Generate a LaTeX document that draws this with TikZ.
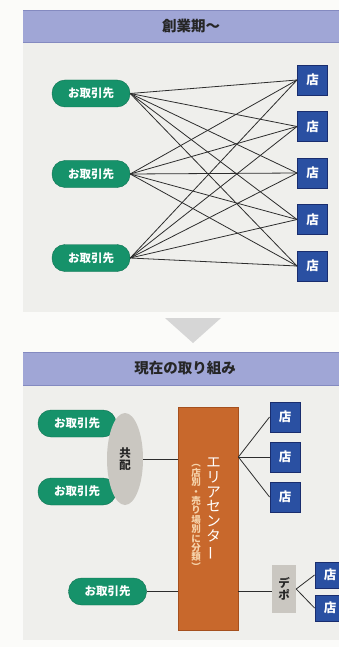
\documentclass[tikz,border=0pt]{standalone}
\usepackage{fontspec}
\usepackage{graphicx}
\newfontfamily\jp{Noto Sans CJK JP}
\usetikzlibrary{shapes.geometric}
\definecolor{hdr}{RGB}{160,166,214}
\definecolor{hdrd}{RGB}{132,138,192}
\definecolor{panel}{RGB}{239,239,236}
\definecolor{pg}{RGB}{251,251,249}
\definecolor{grn}{RGB}{22,146,106}
\definecolor{grnd}{RGB}{12,112,80}
\definecolor{blu}{RGB}{42,80,162}
\definecolor{blud}{RGB}{25,45,110}
\definecolor{org}{RGB}{200,104,44}
\definecolor{orgd}{RGB}{165,80,30}
\definecolor{gry}{RGB}{202,199,193}
\definecolor{tri}{RGB}{214,214,214}
\definecolor{ln}{RGB}{45,45,45}
\definecolor{cream}{RGB}{246,212,172}
\begin{document}
\begin{tikzpicture}[x=1pt,y=-1pt,
  pill/.style={draw=grnd, fill=grn, rounded corners=13pt, minimum width=78pt, minimum height=27pt, text=white, font=\jp\bfseries\fontsize{11.5}{12}\selectfont, inner sep=0pt},
  shop/.style={draw=blud, line width=0.9pt, fill=blu, minimum width=30pt, minimum height=30pt, text=white, font=\jp\bfseries\fontsize{12.5}{13}\selectfont, inner sep=0pt},
  smallshop/.style={shop, minimum height=26pt},
  hdrtext/.style={font=\jp\bfseries\fontsize{14.5}{16}\selectfont, text=black!85},
  conn/.style={draw=ln, line width=0.8pt},
  graybox/.style={fill=gry, inner sep=0pt, text=black!85, font=\jp\bfseries\fontsize{11.5}{12.5}\selectfont, align=center},
]
\fill[pg] (0,0) rectangle (339,647);
\useasboundingbox (0,0) rectangle (339,647);
\clip (0,0) rectangle (339,647);

% top panel
\fill[panel] (23,42) rectangle (339,312);
\fill[hdr] (23,10) rectangle (339,42);
\draw[hdrd, line width=0.8pt] (23,10) -- (339,10);
\draw[hdrd, line width=0.6pt] (23,42) -- (339,42);
\node[hdrtext] (h1) at (191,26) {創業期〜};

\node[pill] (p1) at (91,93.5) {お取引先};
\node[pill] (p2) at (91,174) {お取引先};
\node[pill] (p3) at (91,258) {お取引先};

\node[shop] (s1) at (312.5,80) {店};
\node[shop] (s2) at (312.5,126.5) {店};
\node[shop] (s3) at (312.5,173) {店};
\node[shop] (s4) at (312.5,219.5) {店};
\node[shop] (s5) at (312.5,266) {店};

\foreach \i in {1,2,3}{
  \foreach \j in {1,...,5}{
    \draw[conn] (p\i.east) -- (s\j.west);
  }
}

% arrow
\fill[tri] (165,318) -- (221,318) -- (193,343) -- cycle;

% bottom panel
\fill[panel] (23,385) rectangle (339,640);
\fill[hdr] (23,352) rectangle (339,385);
\draw[hdrd, line width=0.8pt] (23,352) -- (339,352);
\draw[hdrd, line width=0.6pt] (23,385) -- (339,385);
\node[hdrtext] (h2) at (185,368.5) {現在の取り組み};

\node[pill] (b1) at (77,423.5) {お取引先};
\node[pill] (b2) at (77,491.5) {お取引先};
\node[pill] (b3) at (107.5,591.5) {お取引先};

\node[ellipse, graybox, minimum width=36pt, minimum height=92pt] (kyo) at (125,459) {共\\[-1pt]配};

\node[draw=orgd, fill=org, line width=0.8pt, minimum width=60pt, minimum height=223pt, inner sep=0pt] (ac) at (208,518.5) {};
\node[text=white, font=\jp\fontsize{14.5}{14.7}\selectfont, align=center, inner sep=0pt] (acmain) at (213.5,509)
  {エ\\リ\\ア\\セ\\ン\\タ\\\rotatebox[origin=c]{90}{ー}};
\node[text=cream, font=\jp\bfseries\fontsize{9.5}{9.4}\selectfont, align=center, inner sep=0pt] (acsub) at (196,517.5)
  {︵\\店\\別\\・\\売\\り\\場\\別\\に\\分\\類\\︶};

\draw[conn] (kyo.east) -- (ac.west |- kyo.east);

\node[shop] (t1) at (285,417) {店};
\node[shop] (t2) at (285,457) {店};
\node[shop] (t3) at (285,497) {店};
\coordinate (fan) at (ac.east |- t2.west);
\draw[conn] (fan) -- (t1.west);
\draw[conn] (fan) -- (t2.west);
\draw[conn] (fan) -- (t3.west);

\draw[conn] (b3.east) -- (ac.west |- b3.east);

\node[graybox, minimum width=24pt, minimum height=48pt] (dp) at (284,589) {デ\\[-1pt]ポ};
\draw[conn] (ac.east |- b3.east) -- (dp.west |- b3.east);

\node[smallshop] (u1) at (330,575) {店};
\node[smallshop] (u2) at (330,608) {店};
\draw[conn] (dp.east) -- (u1.west);
\draw[conn] (dp.east) -- (u2.west);
\end{tikzpicture}
\end{document}
